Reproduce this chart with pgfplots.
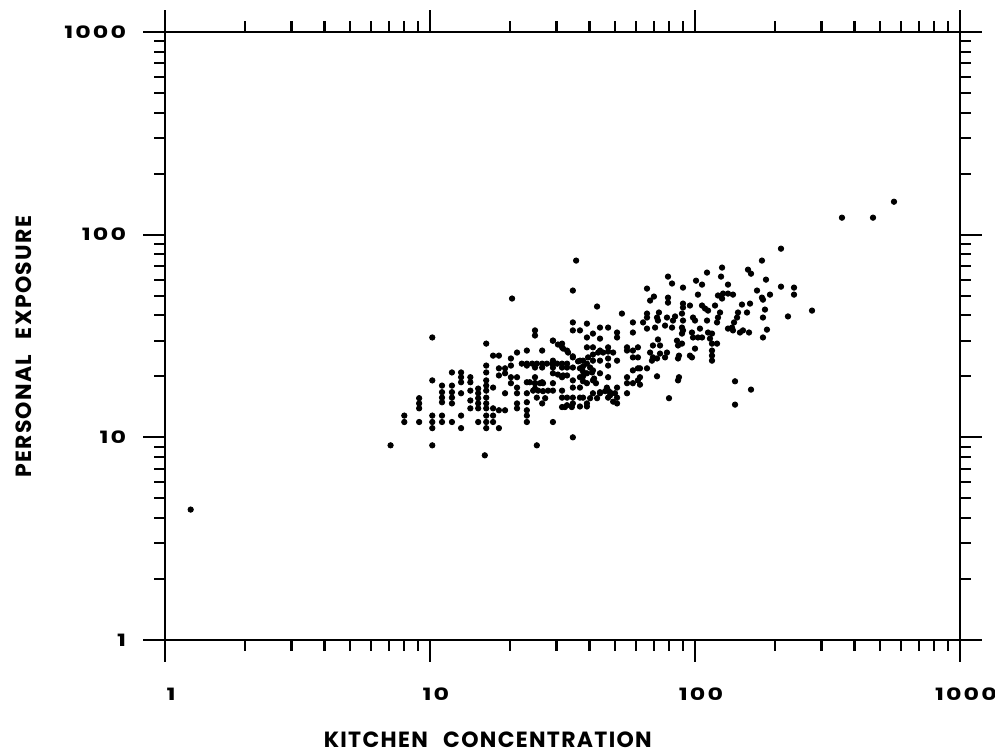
\documentclass[border=0pt]{standalone}
\usepackage{fontspec}
\usepackage{pgfplots}
\pgfplotsset{compat=1.18}
\newfontfamily\labfont{Poppins}[LetterSpace=6]
\newfontfamily\tickfont{Poppins}[FakeStretch=1.4,LetterSpace=12]

\begin{document}
\begin{tikzpicture}
\begin{axis}[
    xmode=log, ymode=log,
    xmin=1, xmax=1000, ymin=1, ymax=1000,
    width=397.5pt, height=304pt,
    scale only axis,
    axis line style={line width=0.9pt},
    tick align=outside,
    major tick length=11pt,
    minor tick length=5.5pt,
    every tick/.style={black, line width=1.1pt},
    xtick={1,10,100,1000}, xticklabels={1,10,100,1000},
    ytick={1,10,100,1000}, yticklabels={1,10,100,1000},
    ticklabel style={font=\tickfont\bfseries\fontsize{8.5}{10}\selectfont, /pgf/number format/assume math mode=true},
    xticklabel style={anchor=center, yshift=-16pt, xshift=3pt},
    yticklabel style={anchor=east, xshift=-5pt},
    xlabel={KITCHEN\hspace{0.7em}CONCENTRATION},
    ylabel={PERSONAL\hspace{0.7em}EXPOSURE},
    label style={font=\labfont\bfseries\fontsize{11}{13}\selectfont},
    xlabel style={at={([yshift=-50pt]axis description cs:0.406,0)}, anchor=center},
    ylabel style={at={([xshift=-70.5pt]axis description cs:0,0.482)}, anchor=center},
]
\addplot[only marks, mark=*, mark size=1.35pt, black] table {
x y
1.25 4.4
7.1 9.13
10.2 9.13
16.1 8.15
25.3 9.13
34.6 10.0
29.1 11.9
10.2 31.1
16.3 29.0
10.2 19.1
20.4 48.4
35.6 74.5
34.6 53.0
42.7 44.2
53.0 40.8
8.0 12.8
8.0 11.9
9.1 15.6
9.1 14.7
9.1 13.9
9.1 11.9
10.2 12.8
10.2 11.9
10.2 11.1
11.1 18.0
11.1 16.7
11.1 15.7
11.1 14.9
11.1 12.8
11.1 11.9
12.1 20.9
12.1 18.0
12.1 16.7
12.1 15.7
12.1 14.7
12.1 11.9
13.1 20.9
13.1 19.8
13.1 18.7
13.1 16.5
13.1 12.8
13.1 11.1
14.2 19.8
14.2 18.7
14.2 17.0
14.2 15.2
14.2 13.9
15.2 17.4
15.2 16.5
15.2 15.6
15.2 14.7
15.2 13.9
15.2 11.9
16.3 22.6
16.3 20.9
16.3 19.1
16.3 18.0
16.3 17.0
16.3 15.7
16.3 14.7
16.3 13.9
16.3 12.8
16.3 11.9
16.3 11.1
17.3 25.3
17.3 17.6
17.3 13.9
17.3 12.8
17.3 11.9
18.2 25.3
18.2 21.9
18.2 20.2
18.2 13.6
18.2 11.1
19.2 21.9
19.2 20.7
19.2 16.5
19.2 13.6
20.2 24.5
20.2 22.6
20.2 19.8
20.2 18.5
21.3 26.2
21.3 19.8
21.3 17.6
21.3 16.5
21.3 14.7
21.3 13.9
23.2 26.8
23.2 22.6
23.2 18.7
23.2 16.5
23.2 14.9
23.2 13.6
23.2 12.8
23.2 11.9
24.9 33.7
24.9 31.8
24.9 22.1
24.9 19.8
24.9 18.5
24.9 17.4
26.5 26.8
26.5 22.1
26.5 18.7
26.5 14.7
29.1 30.0
29.1 23.9
29.1 22.1
29.1 18.5
29.1 17.0
31.5 29.0
31.5 27.8
31.5 23.1
31.5 22.1
31.5 19.8
31.5 17.0
31.5 15.7
31.5 14.1
32.9 26.8
32.9 22.1
32.9 15.7
32.9 14.4
34.6 36.9
34.6 33.7
34.6 24.8
34.6 22.1
34.6 19.1
34.6 17.6
34.6 15.7
34.6 14.7
36.8 33.7
36.8 23.9
36.8 21.9
36.8 19.8
36.8 17.6
36.8 15.7
39.1 36.4
39.1 31.1
39.1 27.8
39.1 23.1
39.1 20.7
39.1 18.5
39.1 14.7
41.2 32.5
41.2 27.8
41.2 23.9
41.2 21.4
41.2 19.1
41.2 16.5
43.8 34.8
43.8 30.7
43.8 26.8
43.8 23.9
43.8 20.7
43.8 16.5
47.0 34.8
47.0 27.8
47.0 24.5
47.0 22.6
47.0 19.8
47.0 17.0
47.0 15.7
50.8 32.9
50.8 31.1
50.8 23.9
50.8 17.6
50.8 15.7
50.8 14.7
55.4 27.8
55.4 26.8
55.4 19.8
55.4 18.5
55.4 16.5
58.3 36.9
58.3 32.9
58.3 26.8
58.3 24.8
58.3 21.4
58.3 18.5
60.9 27.8
60.9 24.8
60.9 21.9
60.9 19.1
22.2 23.1
23.2 23.1
24.3 23.1
25.3 23.1
26.5 23.1
27.6 23.1
28.9 23.1
30.2 23.1
32.9 23.1
29.1 30.0
30.4 28.7
31.8 27.4
33.2 26.2
34.6 25.1
36.2 23.7
37.8 23.9
39.5 24.8
41.2 25.6
43.1 26.2
45.0 26.2
47.0 26.5
49.1 26.2
37.8 22.4
37.8 21.1
37.8 20.0
37.8 18.9
40.2 22.1
40.9 20.9
41.6 19.5
42.3 18.5
29.1 20.7
30.4 20.4
31.8 20.2
32.9 20.2
23.8 18.7
24.9 18.5
26.0 18.5
26.7 18.5
24.5 17.0
25.6 17.0
26.7 16.9
27.9 17.0
25.3 15.7
27.2 15.6
43.8 16.7
45.8 16.9
47.8 16.7
49.9 16.5
46.5 17.6
47.8 16.1
49.1 15.0
37.8 15.7
40.2 15.6
42.7 15.6
32.3 14.1
34.3 14.1
36.8 14.2
39.1 14.2
563.5 145.4
358.6 121.3
469.6 121.3
211.1 85.3
178.9 74.5
126.5 68.8
111.0 65.0
125.4 62.1
79.1 62.1
158.5 67.2
162.7 64.2
100.9 59.3
81.9 57.4
106.3 56.7
185.3 60.0
90.1 54.8
65.9 54.2
133.2 56.7
211.1 55.4
236.4 54.8
236.4 50.6
171.4 53.0
122.1 50.1
127.6 51.2
133.2 51.2
102.6 50.6
139.1 50.6
191.9 50.6
178.9 48.9
180.5 47.8
70.0 49.5
67.7 47.3
79.1 48.9
79.1 46.2
126.5 48.4
90.1 45.7
95.7 44.7
90.1 43.7
106.3 44.7
109.1 43.2
112.0 42.2
119.0 44.7
150.4 45.2
161.3 45.7
183.7 42.7
124.3 41.3
122.1 39.0
121.1 36.9
145.3 41.3
144.1 39.0
140.4 36.9
137.9 34.8
157.1 41.3
73.1 41.3
71.9 39.0
72.5 37.7
65.9 40.8
65.9 39.0
78.4 39.0
84.1 39.5
82.6 37.7
81.9 34.8
89.3 40.8
90.1 37.7
89.3 34.8
98.3 39.0
100.0 37.7
111.0 37.7
180.5 39.0
224.3 39.5
276.4 42.2
63.7 36.9
65.9 34.4
70.7 34.8
77.1 35.6
90.1 33.7
89.3 32.5
97.4 32.9
104.4 34.4
102.6 31.1
112.0 32.9
115.9 32.5
113.9 30.7
115.9 29.0
98.3 31.1
106.3 31.1
133.2 34.4
139.1 33.7
147.8 32.9
151.7 33.7
159.9 32.9
186.9 34.0
180.5 31.1
121.1 29.0
72.5 30.4
69.4 28.4
73.8 28.4
85.5 30.0
86.3 28.4
89.3 29.0
100.0 27.4
95.7 25.3
97.4 24.8
87.0 25.3
86.3 24.5
78.4 26.2
67.7 26.2
69.4 24.8
73.8 25.9
77.1 24.8
68.8 23.9
71.9 24.5
115.9 26.8
115.9 25.3
115.9 23.9
65.9 21.9
62.0 21.9
71.9 20.0
87.0 19.8
86.3 19.1
62.0 19.8
62.0 18.2
141.6 18.9
162.7 17.2
79.8 15.6
141.6 14.5
};
\end{axis}
\pgfresetboundingbox
\path[use as bounding box] ([xshift=-82.5pt,yshift=-56.5pt]current axis.south west) rectangle ([xshift=17.5pt,yshift=16pt]current axis.north east);
\end{tikzpicture}
\end{document}
